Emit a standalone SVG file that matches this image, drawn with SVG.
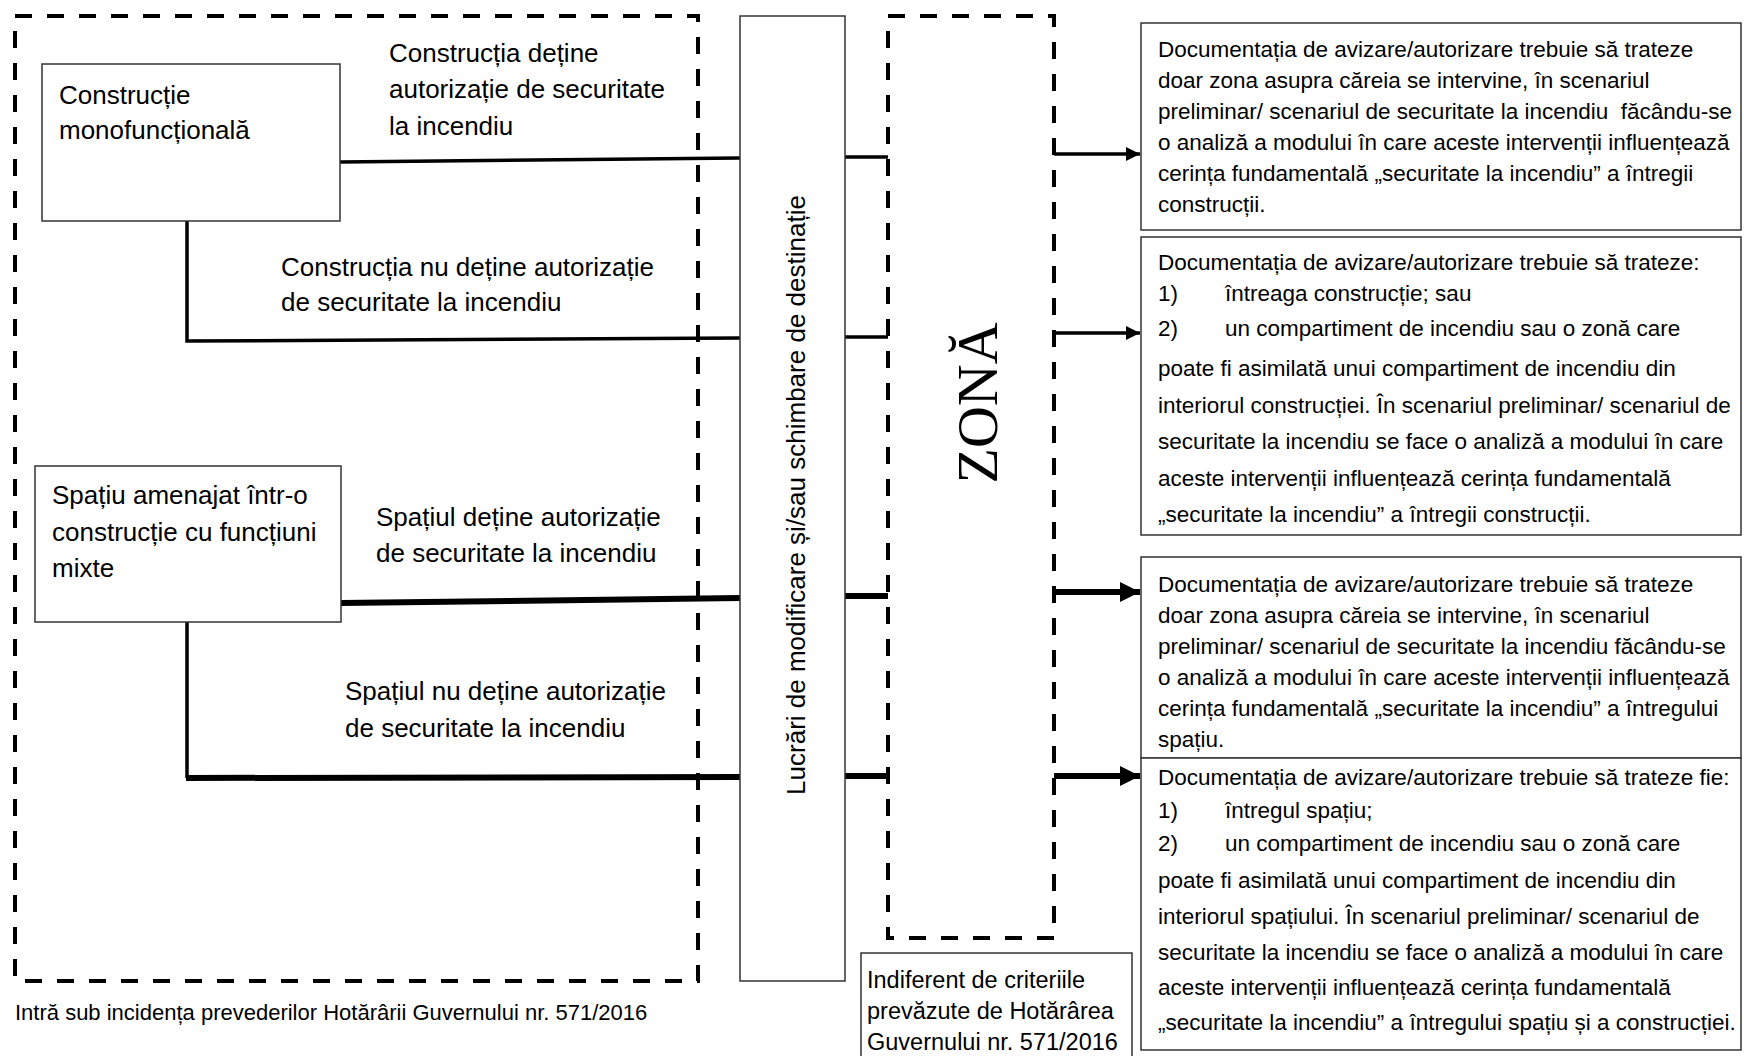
<svg xmlns="http://www.w3.org/2000/svg" width="1744" height="1056" viewBox="0 0 1744 1056">
<style>
  text { font-family: "Liberation Sans", Arial, sans-serif; fill: #000; }
  .lbl { font-size: 26px; }
  .txt { font-size: 22.5px; }
  .note { font-size: 22px; }
  .ind { font-size: 23.5px; }
  .zona { font-family: "Liberation Serif", "Times New Roman", serif; font-size: 58px; }
  .dash { fill: none; stroke: #000; stroke-width: 4; stroke-dasharray: 17 15; }
  .box { fill: #fff; stroke: #333; stroke-width: 1.5; }
  .ln { fill: none; stroke: #000; stroke-width: 3.5; }
  .lnb { fill: none; stroke: #000; stroke-width: 6; }
</style>
<defs>
  <marker id="ah" markerUnits="userSpaceOnUse" markerWidth="16" markerHeight="16" refX="14" refY="7" orient="auto">
    <path d="M0,0 L14,7 L0,14 Z" fill="#000"/>
  </marker>
  <marker id="ahb" markerUnits="userSpaceOnUse" markerWidth="22" markerHeight="22" refX="20" refY="10" orient="auto">
    <path d="M0,0 L20,10 L0,20 Z" fill="#000"/>
  </marker>
</defs>
<rect width="1744" height="1056" fill="#fff"/>

<g id="frames">
  <rect id="hg-frame" class="dash" x="15" y="16" width="683" height="965"/>
  <rect id="zona-frame" class="dash" x="888" y="16" width="166" height="922"/>
</g>

<g id="connectors">
  <path class="ln" d="M340,162 L740,158"/>
  <path class="ln" d="M845,157 L888,157"/>
  <path class="ln" d="M1054,154 L1140,154" marker-end="url(#ah)"/>
  <path class="ln" d="M187,221 L187,341 L740,338"/>
  <path class="ln" d="M845,337 L888,337"/>
  <path class="ln" d="M1054,333 L1140,333" marker-end="url(#ah)"/>
  <path class="lnb" d="M341,603 L740,598"/>
  <path class="lnb" d="M845,596 L888,596"/>
  <path class="lnb" d="M1054,592 L1140,592" marker-end="url(#ahb)"/>
  <path class="ln" d="M187,622 L187,778"/>
  <path class="lnb" d="M186,778 L740,777"/>
  <path class="lnb" d="M845,776 L888,776"/>
  <path class="lnb" d="M1054,776 L1140,776" marker-end="url(#ahb)"/>
</g>

<g id="node-monofunctionala">
  <rect class="box" x="42" y="64" width="298" height="157"/>
  <text class="lbl" x="59" y="104">Construcție</text>
  <text class="lbl" x="59" y="139">monofuncțională</text>
</g>

<g id="label-detine">
  <text class="lbl" x="389" y="62">Construcția deține</text>
  <text class="lbl" x="389" y="98">autorizație de securitate</text>
  <text class="lbl" x="389" y="135">la incendiu</text>
</g>

<g id="label-nu-detine">
  <text class="lbl" x="281" y="276">Construcția nu deține autorizație</text>
  <text class="lbl" x="281" y="311">de securitate la incendiu</text>
</g>

<g id="node-spatiu">
  <rect class="box" x="35" y="466" width="306" height="156"/>
  <text class="lbl" x="52" y="504">Spațiu amenajat într-o</text>
  <text class="lbl" x="52" y="541">construcție cu funcțiuni</text>
  <text class="lbl" x="52" y="577">mixte</text>
</g>

<g id="label-spatiu-detine">
  <text class="lbl" x="376" y="526">Spațiul deține autorizație</text>
  <text class="lbl" x="376" y="562">de securitate la incendiu</text>
</g>

<g id="label-spatiu-nu-detine">
  <text class="lbl" x="345" y="700">Spațiul nu deține autorizație</text>
  <text class="lbl" x="345" y="737">de securitate la incendiu</text>
</g>

<g id="node-lucrari">
  <rect class="box" x="740" y="16" width="105" height="965"/>
  <text class="lbl" transform="translate(805,495) rotate(-90)" text-anchor="middle">Lucrări de modificare și/sau schimbare de destinație</text>
</g>

<g id="node-zona">
  <text class="zona" transform="translate(997,403) rotate(-90)" text-anchor="middle">ZONĂ</text>
</g>

<g id="note-hg">
  <text class="note" x="15" y="1020">Intră sub incidența prevederilor Hotărârii Guvernului nr. 571/2016</text>
</g>

<g id="note-indiferent">
  <rect class="box" x="861" y="953" width="271" height="110"/>
  <text class="ind" x="867" y="988">Indiferent de criteriile</text>
  <text class="ind" x="867" y="1019">prevăzute de Hotărârea</text>
  <text class="ind" x="867" y="1050">Guvernului nr. 571/2016</text>
</g>

<g id="box-1">
  <rect class="box" x="1141" y="23" width="600" height="207"/>
  <text class="txt" x="1158" y="57">Documentația de avizare/autorizare trebuie să trateze</text>
  <text class="txt" x="1158" y="88">doar zona asupra căreia se intervine, în scenariul</text>
  <text class="txt" x="1158" y="119" xml:space="preserve">preliminar/ scenariul de securitate la incendiu  făcându-se</text>
  <text class="txt" x="1158" y="150">o analiză a modului în care aceste intervenții influențează</text>
  <text class="txt" x="1158" y="181">cerința fundamentală „securitate la incendiu” a întregii</text>
  <text class="txt" x="1158" y="212">construcții.</text>
</g>

<g id="box-2">
  <rect class="box" x="1141" y="237" width="600" height="298"/>
  <text class="txt" x="1158" y="270">Documentația de avizare/autorizare trebuie să trateze:</text>
  <text class="txt" x="1158" y="301">1)</text>
  <text class="txt" x="1225" y="301">întreaga construcție; sau</text>
  <text class="txt" x="1158" y="336">2)</text>
  <text class="txt" x="1225" y="336">un compartiment de incendiu sau o zonă care</text>
  <text class="txt" x="1158" y="376">poate fi asimilată unui compartiment de incendiu din</text>
  <text class="txt" x="1158" y="413">interiorul construcției. În scenariul preliminar/ scenariul de</text>
  <text class="txt" x="1158" y="449">securitate la incendiu se face o analiză a modului în care</text>
  <text class="txt" x="1158" y="486">aceste intervenții influențează cerința fundamentală</text>
  <text class="txt" x="1158" y="522">„securitate la incendiu” a întregii construcții.</text>
</g>

<g id="box-3">
  <rect class="box" x="1141" y="557" width="600" height="201"/>
  <text class="txt" x="1158" y="592">Documentația de avizare/autorizare trebuie să trateze</text>
  <text class="txt" x="1158" y="623">doar zona asupra căreia se intervine, în scenariul</text>
  <text class="txt" x="1158" y="654">preliminar/ scenariul de securitate la incendiu făcându-se</text>
  <text class="txt" x="1158" y="685">o analiză a modului în care aceste intervenții influențează</text>
  <text class="txt" x="1158" y="716">cerința fundamentală „securitate la incendiu” a întregului</text>
  <text class="txt" x="1158" y="747">spațiu.</text>
</g>

<g id="box-4">
  <rect class="box" x="1141" y="758" width="600" height="292"/>
  <text class="txt" x="1158" y="785">Documentația de avizare/autorizare trebuie să trateze fie:</text>
  <text class="txt" x="1158" y="818">1)</text>
  <text class="txt" x="1225" y="818">întregul spațiu;</text>
  <text class="txt" x="1158" y="851">2)</text>
  <text class="txt" x="1225" y="851">un compartiment de incendiu sau o zonă care</text>
  <text class="txt" x="1158" y="888">poate fi asimilată unui compartiment de incendiu din</text>
  <text class="txt" x="1158" y="924">interiorul spațiului. În scenariul preliminar/ scenariul de</text>
  <text class="txt" x="1158" y="960">securitate la incendiu se face o analiză a modului în care</text>
  <text class="txt" x="1158" y="995">aceste intervenții influențează cerința fundamentală</text>
  <text class="txt" x="1158" y="1030">„securitate la incendiu” a întregului spațiu și a construcției.</text>
</g>
</svg>
